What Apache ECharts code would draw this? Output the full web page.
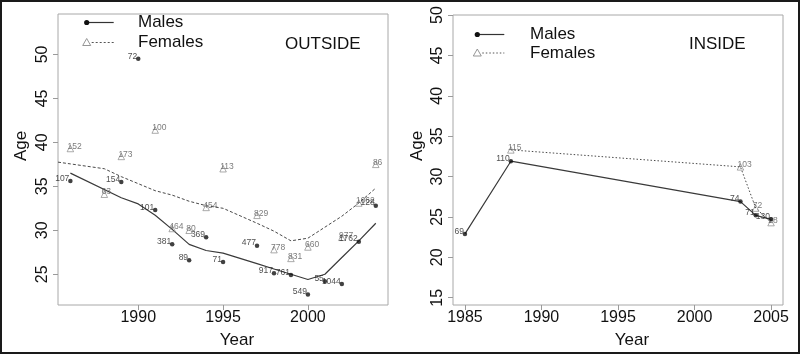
<!DOCTYPE html>
<html><head><meta charset="utf-8">
<script src="https://cdn.jsdelivr.net/npm/echarts@6/dist/echarts.min.js"></script>
<style>html,body{margin:0;padding:0;background:#fff}#c{width:800px;height:354px}</style>
</head><body><div id="c"></div>
<script>
// ---------- OUTSIDE panel ----------
const outMaleYears = [1986,1989,1990,1991,1992,1993,1994,1995,1997,1998,1999,2000,2001,2002,2003,2004];
const outMaleAge   = [35.6,35.5,49.5,32.3,28.4,26.6,29.2,26.4,28.25,25.1,24.9,22.7,24.2,23.9,28.7,32.8];
const outMaleN     = ['107','154','72','101','381','89','369','71','477','917','761','549','55','1044','1762','128'];
const outMaleFit   = [36.5,33.7,33.0,31.7,30.1,28.4,27.7,27.4,26.2,25.6,25.0,24.4,25.0,26.9,28.8,30.8];

const outFemYears  = [1986,1988,1989,1991,1992,1993,1994,1995,1997,1998,1999,2000,2002,2003,2004];
const outFemAge    = [39.3,34.1,38.4,41.4,30.2,30.0,32.6,37.0,31.7,27.8,26.8,28.1,29.2,33.1,37.5];
const outFemN      = ['152','63','173','100','464','80','454','113','829','778','831','660','977','1062','86'];
const outFemFitYears = [1985.27,1986,1988,1989,1991,1992,1993,1994,1995,1997,1998,1999,2000,2002,2003,2004];
const outFemFit      = [37.75,37.55,37.0,36.1,34.5,34.0,33.3,32.8,32.5,30.8,29.9,28.8,29.1,31.6,33.1,34.8];

// ---------- INSIDE panel ----------
const inMaleYears = [1985,1988,2003,2004,2005];
const inMaleAge   = [22.9,31.9,26.9,25.2,24.7];
const inMaleN     = ['69','110','74','71','130'];
const inFemYears  = [1988,2003,2004,2005];
const inFemAge    = [33.3,31.2,26.1,24.3];
const inFemN      = ['115','103','72','28'];

// ---------- ticks ----------
const outXTicks = [1990,1995,2000];
const outYTicks = [25,30,35,40,45,50];
const inXTicks  = [1985,1990,1995,2000,2005];
const inYTicks  = [15,20,25,30,35,40,45,50];

const FONT = 'Liberation Sans';
const pairs = (xs, ys) => xs.map((x,i)=>[x, ys[i]]);
const named = (xs, ys, ns) => xs.map((x,i)=>({value:[x, ys[i]], name: ns[i]}));
const plain = v => String(Math.round(v));

function xAxis(grid, min, max, ticks){
  return {type:'value', gridIndex:grid, min, max,
    axisLine:{show:false}, splitLine:{show:false},
    axisTick:{show:true, customValues:ticks, length:5, lineStyle:{color:'#9a9a9a'}},
    axisLabel:{customValues:ticks, formatter:plain, fontSize:16, fontFamily:FONT, color:'#111', margin:5}};
}
function yAxis(grid, min, max, ticks){
  return {type:'value', gridIndex:grid, min, max,
    axisLine:{show:false}, splitLine:{show:false},
    axisTick:{show:true, customValues:ticks, length:5, lineStyle:{color:'#9a9a9a'}},
    axisLabel:{customValues:ticks, formatter:plain, fontSize:16, fontFamily:FONT, color:'#111', margin:7, rotate:90}};
}
function maleScatter(idx, xs, ys, ns){
  return {type:'scatter', xAxisIndex:idx, yAxisIndex:idx, data:named(xs,ys,ns),
    symbol:'circle', symbolSize:4.5, itemStyle:{color:'#111'}, z:5,
    label:{show:true, formatter:'{b}', position:[1.2,-0.3], align:'right', verticalAlign:'middle',
      fontSize:8.5, fontFamily:FONT, color:'#222'}};
}
function femScatter(idx, xs, ys, ns){
  return {type:'scatter', xAxisIndex:idx, yAxisIndex:idx, data:named(xs,ys,ns),
    symbol:'triangle', symbolSize:6.5, itemStyle:{color:'rgba(0,0,0,0)', borderColor:'#8a8a8a', borderWidth:0.9}, z:4,
    label:{show:true, formatter:'{b}', position:[0.8,1.6], align:'left', verticalAlign:'middle',
      fontSize:8.5, fontFamily:FONT, color:'#5a5a5a'}};
}

const g = [];
function legend(xDot, xText, yM, yF, femDash){
  g.push({type:'line', shape:{x1:xDot, y1:yM, x2:xDot+27, y2:yM}, style:{stroke:'#333', lineWidth:1.2}});
  g.push({type:'circle', shape:{cx:xDot, cy:yM, r:2.6}, style:{fill:'#111'}});
  g.push({type:'line', shape:{x1:xDot+5, y1:yF, x2:xDot+27, y2:yF}, style:{stroke:'#555', lineWidth:1, lineDash:femDash}});
  g.push({type:'polygon', shape:{points:[[xDot-4,yF+3],[xDot+4,yF+3],[xDot,yF-4]]}, style:{fill:'none', stroke:'#8a8a8a', lineWidth:0.9}});
  g.push({type:'text', x:xText, y:yM, style:{text:'Males', font:'17px '+FONT, fill:'#111', align:'left', verticalAlign:'middle'}});
  g.push({type:'text', x:xText, y:yF, style:{text:'Females', font:'17px '+FONT, fill:'#111', align:'left', verticalAlign:'middle'}});
}
legend(86.7, 138, 22.5, 42.5, [2,2]);
legend(477.3, 530, 34.5, 53, [1.5,2]);
function txt(text, x, y, rot){
  g.push({type:'text', x, y, rotation:rot||0, style:{text, font:'17px '+FONT, fill:'#111', align:'center', verticalAlign:'middle'}});
}
g.push({type:'text', x:285, y:44.5, style:{text:'OUTSIDE', font:'17px '+FONT, fill:'#111', align:'left', verticalAlign:'middle'}});
g.push({type:'text', x:689, y:44.5, style:{text:'INSIDE', font:'17px '+FONT, fill:'#111', align:'left', verticalAlign:'middle'}});
txt('Age', 21, 146, Math.PI/2);
txt('Age', 417, 146, Math.PI/2);
txt('Year', 237, 340);
txt('Year', 632, 340);
g.push({type:'rect', shape:{x:1, y:1, width:798, height:352}, style:{fill:'none', stroke:'#1a1a1a', lineWidth:2}, z:100});

const chart = echarts.init(document.getElementById('c'), null, {renderer:'canvas'});
chart.setOption({
  animation:false,
  backgroundColor:'#fff',
  grid:[
    {left:58, top:14, width:330, height:291, show:true, borderColor:'#a8a8a8', borderWidth:1, backgroundColor:'transparent'},
    {left:453, top:15, width:330, height:290, show:true, borderColor:'#a8a8a8', borderWidth:1, backgroundColor:'transparent'}
  ],
  xAxis:[xAxis(0,1985.27,2004.72,outXTicks), xAxis(1,1984.22,2005.78,inXTicks)],
  yAxis:[yAxis(0,21.5,54.6,outYTicks), yAxis(1,14.1,50,inYTicks)],
  series:[
    {type:'line', xAxisIndex:0, yAxisIndex:0, data:pairs(outMaleYears,outMaleFit), showSymbol:false,
      lineStyle:{color:'#3a3a3a', width:1.2}, z:3},
    {type:'line', xAxisIndex:0, yAxisIndex:0, data:pairs(outFemFitYears,outFemFit), showSymbol:false,
      lineStyle:{color:'#4a4a4a', width:1, type:[3,2]}, z:3},
    maleScatter(0,outMaleYears,outMaleAge,outMaleN),
    femScatter(0,outFemYears,outFemAge,outFemN),
    {type:'line', xAxisIndex:1, yAxisIndex:1, data:pairs(inMaleYears,inMaleAge), showSymbol:false,
      lineStyle:{color:'#3a3a3a', width:1.2}, z:3},
    {type:'line', xAxisIndex:1, yAxisIndex:1, data:pairs(inFemYears,inFemAge), showSymbol:false,
      lineStyle:{color:'#4a4a4a', width:1, type:[1.5,2]}, z:3},
    maleScatter(1,inMaleYears,inMaleAge,inMaleN),
    femScatter(1,inFemYears,inFemAge,inFemN)
  ],
  graphic:g
});
</script></body></html>
